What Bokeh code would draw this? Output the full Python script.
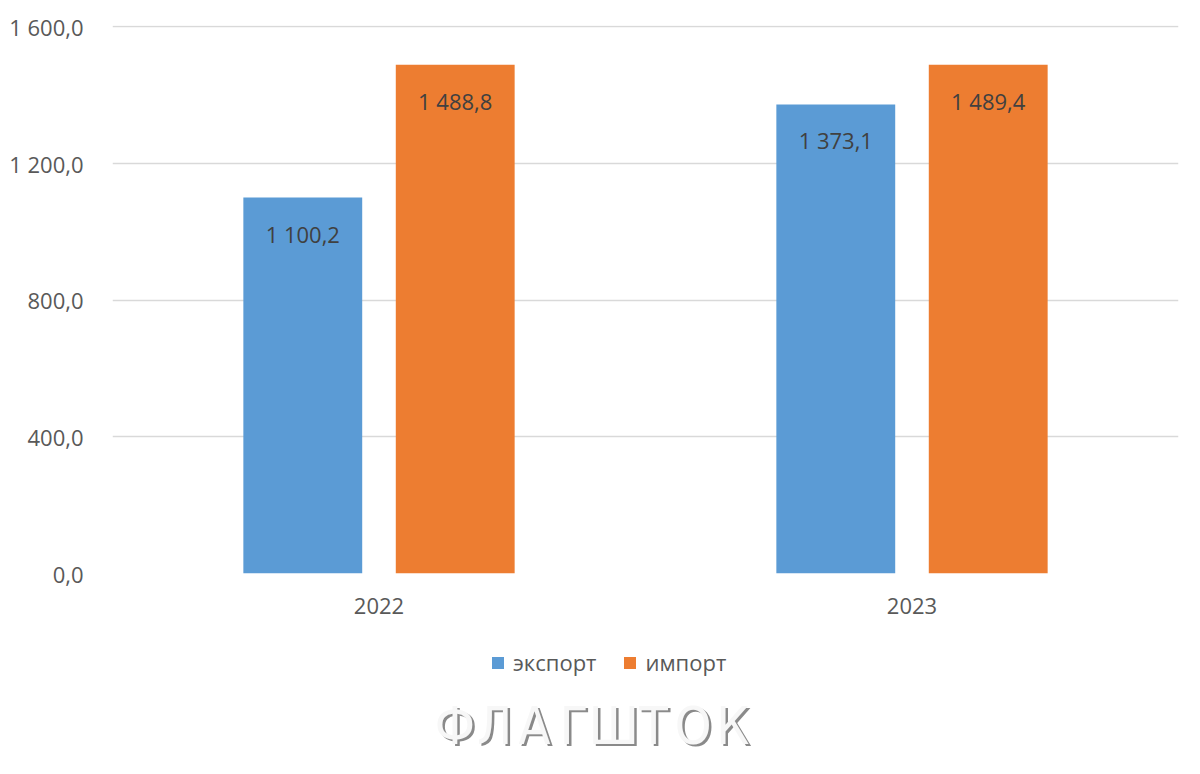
from bokeh.plotting import figure
from bokeh.layouts import column
from bokeh.models import (FactorRange, Range1d, FixedTicker, Legend, LegendItem,
                          ColumnDataSource)
from bokeh.transform import dodge
from bokeh.core.properties import value
from bokeh.embed import file_html
from bokeh.resources import INLINE

# ---------------- data ----------------
years = ["2022", "2023"]
export_vals = [1100.2, 1373.1]
import_vals = [1488.8, 1489.4]
series_names = ["экспорт", "импорт"]
y_ticks = [0, 400, 800, 1200, 1600]
y_tick_labels = ["0,0", "400,0", "800,0", "1 200,0", "1 600,0"]
watermark = "ФЛАГШТОК"


def fmt(v):
    return f"{v:,.1f}".replace(",", " ").replace(".", ",")


FONT = "Open Sans"
BLUE = "#5B9BD5"
ORANGE = "#ED7D31"
TXT = "#595959"

p = figure(x_range=FactorRange(factors=years, range_padding=0),
           y_range=Range1d(0, 1604),
           width=1184, height=630, output_backend="svg", toolbar_location=None,
           min_border_left=112, min_border_right=6, min_border_top=25,
           min_border_bottom=57)

src = ColumnDataSource(dict(
    year=years,
    exp=export_vals,
    imp=import_vals,
    exp_lbl=[fmt(v) for v in export_vals],
    imp_lbl=[fmt(v) for v in import_vals],
))

OFF = 0.143
W = 0.223
p.vbar(x=dodge("year", -OFF, range=p.x_range), top="exp", width=W,
       source=src, fill_color=BLUE, line_color=None)
p.vbar(x=dodge("year", OFF, range=p.x_range), top="imp", width=W,
       source=src, fill_color=ORANGE, line_color=None)

for xo, col in ((-OFF, "exp"), (OFF, "imp")):
    p.text(x=dodge("year", xo, range=p.x_range), y=col, text=col + "_lbl",
           source=src, text_align="center", text_baseline="middle",
           y_offset=36, text_font=value(FONT), text_font_size="22px",
           text_color="#404040")

# axes / grid
p.outline_line_color = None
p.xgrid.grid_line_color = None
p.ygrid.grid_line_color = "#D9D9D9"
p.ygrid.grid_line_width = 1.5
p.yaxis.ticker = FixedTicker(ticks=y_ticks)
p.yaxis.major_label_overrides = {t: l for t, l in zip(y_ticks, y_tick_labels)}
for ax in (p.xaxis[0], p.yaxis[0]):
    ax.axis_line_color = None
    ax.major_tick_line_color = None
    ax.minor_tick_line_color = None
    ax.major_label_text_font = FONT
    ax.major_label_text_font_size = "22px"
    ax.major_label_text_color = TXT
p.yaxis.major_label_standoff = 23
p.xaxis.major_label_standoff = 18

# ---------------- legend + watermark strip ----------------
# shares the category axis; its series keys reuse the same data (above view)
wm = figure(width=1184, height=128, x_range=p.x_range,
            y_range=Range1d(-128, 0), output_backend="svg",
            toolbar_location=None, min_border_left=112, min_border_right=6,
            min_border_top=0, min_border_bottom=0)
wm.axis.visible = False
wm.grid.visible = False
wm.outline_line_color = None

k1 = wm.vbar(x=dodge("year", -OFF, range=p.x_range), top="exp", width=W,
             source=src, fill_color=BLUE, line_color=None)
k2 = wm.vbar(x=dodge("year", OFF, range=p.x_range), top="imp", width=W,
             source=src, fill_color=ORANGE, line_color=None)
legend = Legend(items=[LegendItem(label=series_names[0], renderers=[k1]),
                       LegendItem(label=series_names[1], renderers=[k2])],
                orientation="horizontal", location=(378, 81), margin=0,
                padding=10, spacing=26, label_standoff=8,
                glyph_width=15, glyph_height=15,
                label_text_font=FONT, label_text_font_size="22px",
                label_text_color=TXT, border_line_color=None,
                background_fill_alpha=0)
wm.add_layout(legend)

letters = list(watermark)
PX = 533.0  # frame pixels per category
xs = [(454.5 + i * 39.7 - 112) / PX for i in range(len(letters))]
for dx, dy, colr in ((2.5, -2.5, "#8a8a8a"), (0, 0, "#f7f7f7")):
    wm.text(x=[x + dx / PX for x in xs], y=[-95 + dy] * len(xs), text=letters,
            text_align="center", text_baseline="middle",
            text_font=value("DejaVu Sans Condensed"), text_font_size="52px",
            text_color=colr)

layout = column(p, wm, spacing=0)
open("out.html", "w").write(file_html(layout, INLINE))
